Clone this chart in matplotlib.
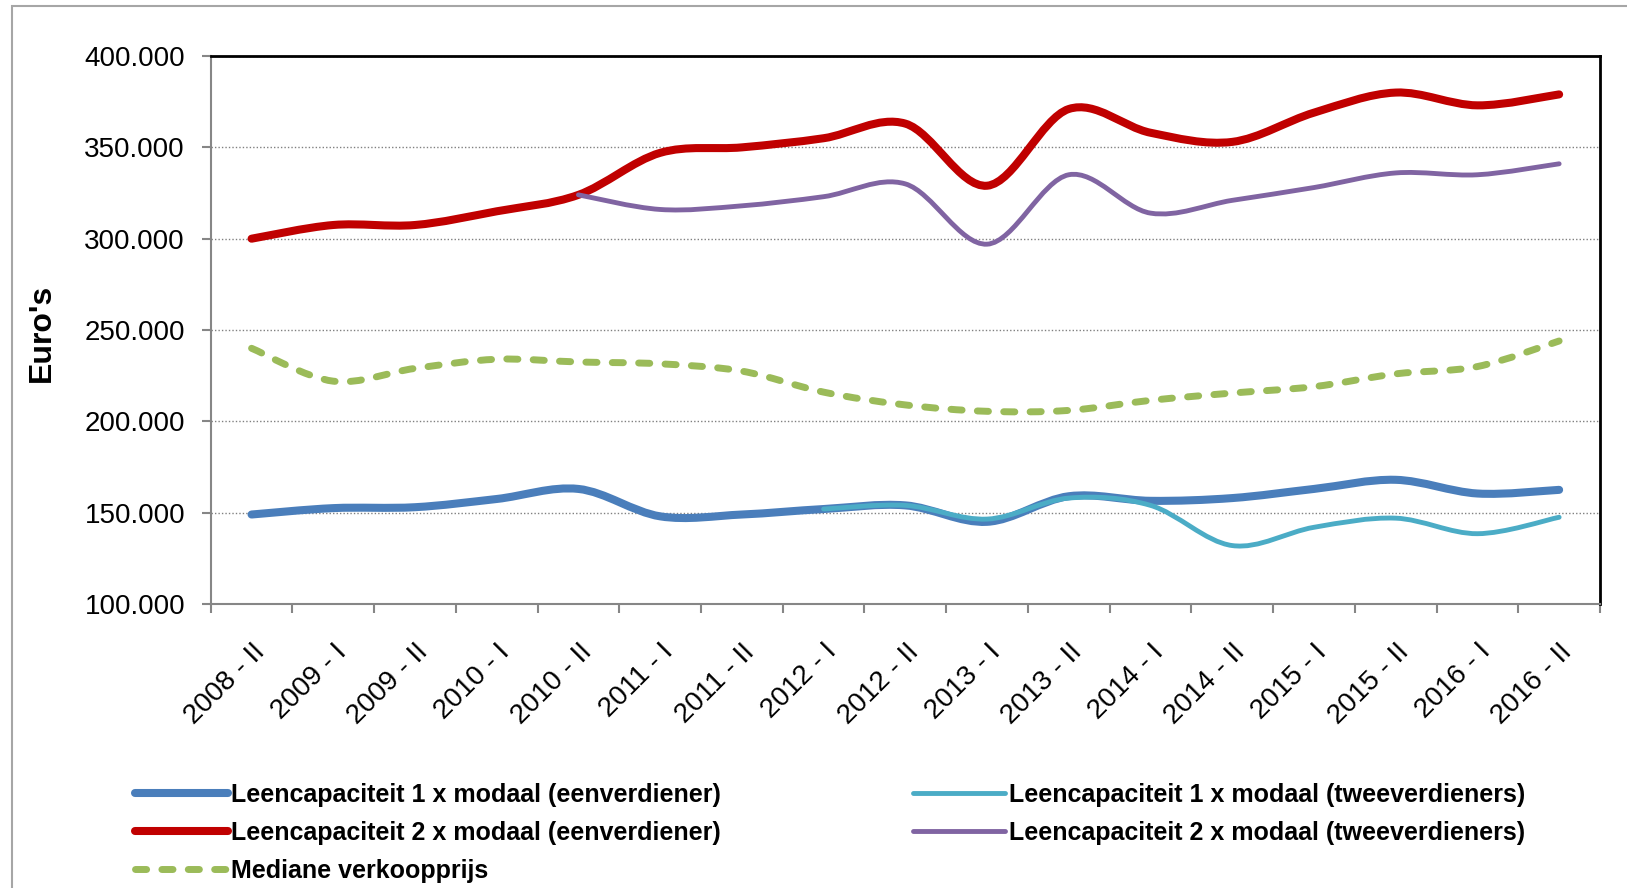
import matplotlib.pyplot as plt
import numpy as np
from matplotlib.path import Path
from matplotlib.patches import PathPatch, Rectangle
from matplotlib.lines import Line2D
from matplotlib.ticker import FuncFormatter
from matplotlib.transforms import ScaledTranslation

# categories (half years)
periods = ['2008 - II', '2009 - I', '2009 - II', '2010 - I', '2010 - II',
           '2011 - I', '2011 - II', '2012 - I', '2012 - II', '2013 - I',
           '2013 - II', '2014 - I', '2014 - II', '2015 - I', '2015 - II',
           '2016 - I', '2016 - II']

# values in euro's (thousands)
een_1x = [149, 152.5, 153, 157.5, 163, 148, 149, 152, 154, 145, 159, 156.5,
          158, 163, 168, 160.5, 162.5]
twee_1x = [None] * 7 + [152, 154, 146.5, 158, 154, 132, 142, 147, 138.5, 147.5]
een_2x = [300, 307.5, 307.5, 315, 324, 347, 350, 355, 363, 329, 371, 358,
          353, 369, 380, 373, 379]
twee_2x = [None] * 4 + [324, 316, 318, 323, 330, 297, 335, 314, 321, 328,
                        336, 335, 341]
mediaan = [240, 222, 229, 234, 232.5, 231.5, 227.5, 216, 209, 205.5, 206,
           211.5, 215.5, 219, 226, 230, 244]

labels = ['Leencapaciteit 1 x modaal (eenverdiener)',
          'Leencapaciteit 1 x modaal (tweeverdieners)',
          'Leencapaciteit 2 x modaal (eenverdiener)',
          'Leencapaciteit 2 x modaal (tweeverdieners)',
          'Mediane verkoopprijs']
colors = ['#4a7ebb', '#4bacc6', '#c00000', '#8064a2', '#9bbb59']
widths = [5.8, 3.5, 5.8, 3.5, 5]

plt.rcParams['font.family'] = ['Liberation Sans', 'DejaVu Sans']


def smooth_path(vals):
    # excel style smoothed line: bezier through every point
    xs = [i for i, v in enumerate(vals) if v is not None]
    pts = np.array([[i, vals[i] * 1000] for i in xs], dtype=float)
    n = len(pts)
    verts = [pts[0]]
    codes = [Path.MOVETO]
    for i in range(n - 1):
        p0 = pts[i - 1] if i > 0 else pts[i]
        p1 = pts[i]
        p2 = pts[i + 1]
        p3 = pts[i + 2] if i + 2 < n else pts[i + 1]
        verts += [p1 + (p2 - p0) / 6, p2 - (p3 - p1) / 6, p2]
        codes += [Path.CURVE4] * 3
    return Path(verts, codes)


fig = plt.figure(figsize=(16.27, 8.88), dpi=100)
ax = fig.add_axes([0.1295, 0.3198, 0.9834 - 0.1295, 0.9369 - 0.3198])

series = [een_1x, twee_1x, een_2x, twee_2x, mediaan]
handles = []
for vals, lab, c, lw in zip(series, labels, colors, widths):
    ls = (0, (1.6, 2.2)) if lab.startswith('Mediane') else '-'
    patch = PathPatch(smooth_path(vals), fill=False, edgecolor=c, lw=lw,
                      linestyle=ls, capstyle='round', joinstyle='round', zorder=3)
    ax.add_patch(patch)
    h = Line2D([], [], color=c, lw=lw, linestyle=ls, solid_capstyle='round',
               dash_capstyle='round')
    handles.append(h)

ax.set_xlim(-0.5, len(periods) - 0.5)
ax.set_ylim(100000, 400000)
ax.set_yticks(np.arange(100000, 400001, 50000))
ax.yaxis.set_major_formatter(FuncFormatter(lambda v, p: f'{v:,.0f}'.replace(',', '.')))
ax.grid(axis='y', color='#808080', lw=1, linestyle=(0, (1, 1.5)), zorder=0)

ax.set_xticks(range(len(periods)))
ax.set_xticklabels(periods, rotation=45, ha='right', va='top',
                   rotation_mode='anchor', fontsize=20)
shift = ScaledTranslation(-0.06, 0.03, fig.dpi_scale_trans)
for t in ax.get_xticklabels():
    t.set_transform(t.get_transform() + shift)
ax.set_xticks(np.arange(-0.5, len(periods)), minor=True)
ax.tick_params(axis='x', which='major', length=0, pad=25)
ax.tick_params(axis='x', which='minor', length=6.5, width=1.5, color='#868686',
               direction='out')
ax.tick_params(axis='y', length=6.5, width=1.5, color='#868686', pad=12,
               labelsize=20)

for s in ['top', 'right']:
    ax.spines[s].set_color('black')
    ax.spines[s].set_linewidth(2)
for s in ['left', 'bottom']:
    ax.spines[s].set_color('#868686')
    ax.spines[s].set_linewidth(1.5)

fig.text(0.026, 0.625, "Euro's", rotation=90, ha='center', va='center',
         fontsize=23, fontweight='bold')

leg_font = {'weight': 'bold', 'size': 18}
leg_kw = dict(loc='upper left', frameon=False, prop=leg_font,
              handlelength=3.7, handletextpad=0.15, labelspacing=0.55,
              borderpad=0, borderaxespad=0)
fig.legend([handles[0], handles[2], handles[4]],
           [labels[0], labels[2], labels[4]],
           bbox_to_anchor=(0.083, 0.118), **leg_kw)
fig.legend([handles[1], handles[3]], [labels[1], labels[3]],
           bbox_to_anchor=(0.561, 0.118), **leg_kw)

fig.patches.append(Rectangle((0.0074, -0.05), 1.1, 0.9932 + 0.05,
                             transform=fig.transFigure, fill=False,
                             edgecolor='#a6a6a6', lw=1.5))

fig.savefig('out.png', dpi=100)
